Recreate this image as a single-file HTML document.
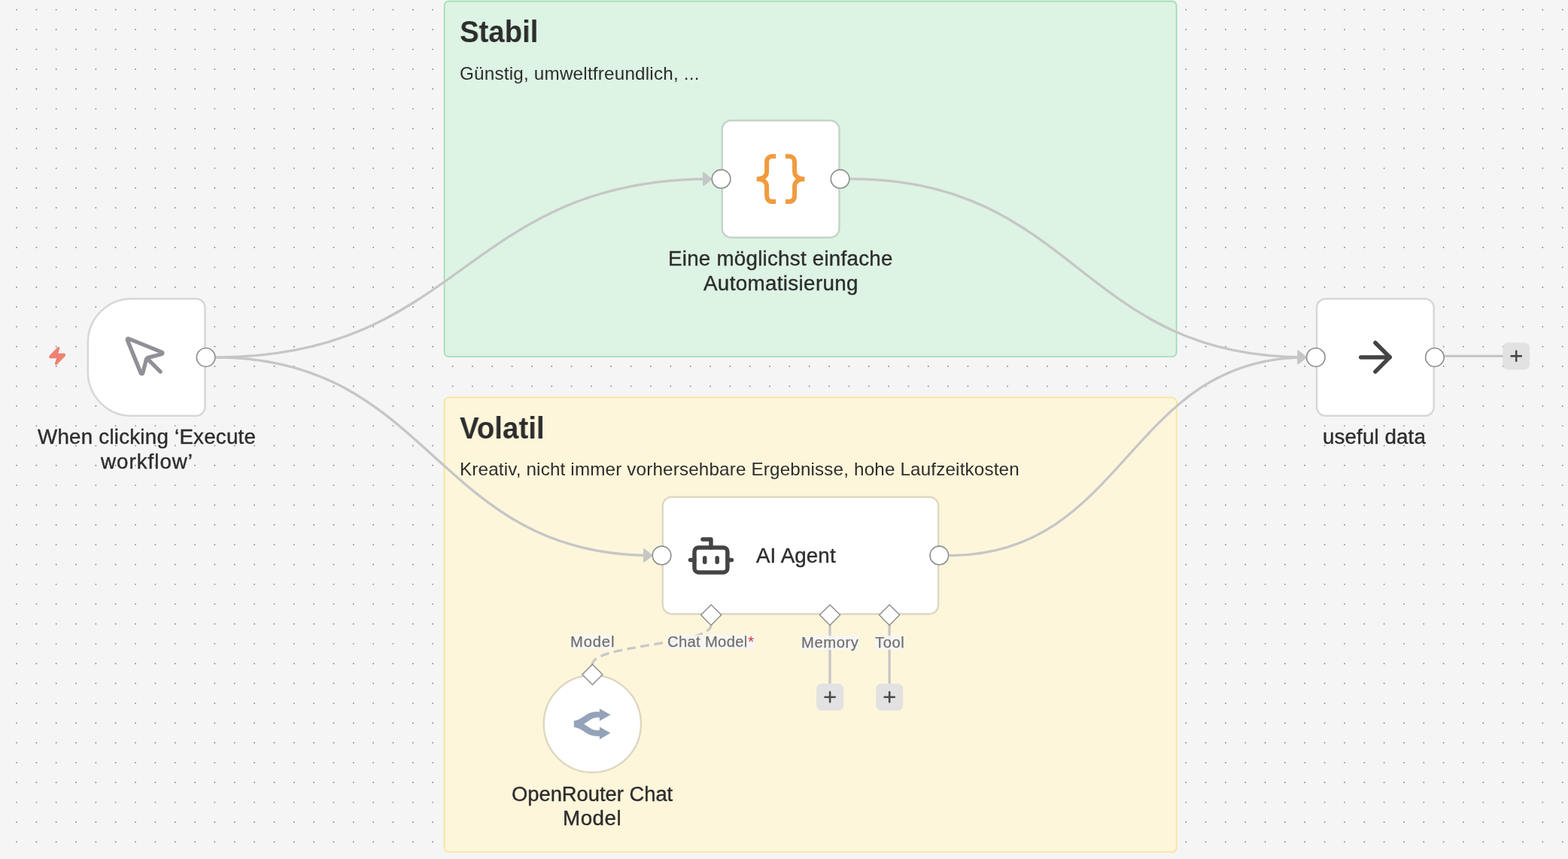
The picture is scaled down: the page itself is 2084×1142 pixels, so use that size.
<!DOCTYPE html>
<html lang="de">
<head>
<meta charset="utf-8">
<title>n8n workflow canvas</title>
<style>
*{box-sizing:border-box;margin:0;padding:0}
html,body{width:2084px;height:1142px;overflow:hidden;background:#f5f5f5}
body{position:relative;font-family:"Liberation Sans",sans-serif}
.abs,.t,.lbl,svg.layer{position:absolute}
svg.layer{left:0;top:0;width:2084px;height:1142px;overflow:visible}
.t{white-space:nowrap;will-change:transform}
.lbl{height:19.4px;background:rgba(246,246,246,.86)}
</style>
</head>
<body>
<svg class="layer" viewBox="0 0 2084 1142">
<path d="M-4.342 12.900H2110M-4.342 39.242H2110M-4.342 65.585H2110M-4.342 91.927H2110M-4.342 118.270H2110M-4.342 144.612H2110M-4.342 170.954H2110M-4.342 197.297H2110M-4.342 223.639H2110M-4.342 249.982H2110M-4.342 276.324H2110M-4.342 302.666H2110M-4.342 329.009H2110M-4.342 355.351H2110M-4.342 381.694H2110M-4.342 408.036H2110M-4.342 434.378H2110M-4.342 460.721H2110M-4.342 487.063H2110M-4.342 513.406H2110M-4.342 539.748H2110M-4.342 566.090H2110M-4.342 592.433H2110M-4.342 618.775H2110M-4.342 645.118H2110M-4.342 671.460H2110M-4.342 697.802H2110M-4.342 724.145H2110M-4.342 750.487H2110M-4.342 776.830H2110M-4.342 803.172H2110M-4.342 829.514H2110M-4.342 855.857H2110M-4.342 882.199H2110M-4.342 908.542H2110M-4.342 934.884H2110M-4.342 961.226H2110M-4.342 987.569H2110M-4.342 1013.911H2110M-4.342 1040.254H2110M-4.342 1066.596H2110M-4.342 1092.938H2110M-4.342 1119.281H2110" fill="none" stroke="#8c8c8c" stroke-width="1.9" stroke-linecap="round" stroke-dasharray="0 26.3424"/>
<rect x="590.59" y="1.69" width="973.02" height="472.51" rx="5.76" fill="#ddf3e3" stroke="#9bdeb0" stroke-width="1.65"/>
<rect x="590.59" y="528.54" width="973.02" height="604.23" rx="5.76" fill="#fef6db" stroke="#fae394" stroke-width="1.65"/>
</svg>
<div class="t" style="left:610.89px;top:16px;font-size:40.6px;line-height:53px;color:#2d2d2d;transform:scaleX(0.9440);transform-origin:0 0;font-weight:700;">Stabil</div>
<div class="t" style="left:610.83px;top:83px;font-size:23.4px;line-height:30px;letter-spacing:0.21px;color:#2d2d2d;transform:scaleX(1.0350);transform-origin:0 0;">Günstig, umweltfreundlich, ...</div>
<div class="t" style="left:611.35px;top:543px;font-size:40.6px;line-height:53px;color:#2d2d2d;transform:scaleX(0.9479);transform-origin:0 0;font-weight:700;">Volatil</div>
<div class="t" style="left:610.91px;top:609px;font-size:23.4px;line-height:30px;letter-spacing:0.16px;color:#2d2d2d;transform:scaleX(1.0350);transform-origin:0 0;">Kreativ, nicht immer vorhersehbare Ergebnisse, hohe Laufzeitkosten</div>
<svg class="layer" viewBox="0 0 2084 1142">
<defs><marker id="arr" viewBox="-10 -10 20 20" markerWidth="12.5" markerHeight="12.5" markerUnits="strokeWidth" orient="auto-start-reverse" refX="0" refY="0"><polyline points="-5,-4 0,0 -5,4 -5,-4" fill="#c6c6c6" stroke="#c6c6c6" stroke-width="1" stroke-linecap="round" stroke-linejoin="round"/></marker></defs>
<g fill="none" stroke="#c6c6c6" stroke-width="3.3">
<path d="M286.83 475.03C616.11 475.03 616.11 237.95 945.39 237.95" marker-end="url(#arr)"/>
<path d="M286.83 475.03C576.59 475.03 576.59 738.45 866.36 738.45" marker-end="url(#arr)"/>
<path d="M1129.78 237.95C1432.72 237.95 1432.72 475.03 1735.66 475.03" marker-end="url(#arr)"/>
<path d="M1261.49 738.45C1498.58 738.45 1498.58 475.03 1735.66 475.03" marker-end="url(#arr)"/>
<path d="M1919.05 473.45H1998"/>
<path d="M1103 831.1V910M1182.1 831.1V910"/>
<path d="M787.33 883.2C787.33 857.15 945.1 857.15 945.1 831.1" stroke="#c8c8c9" stroke-dasharray="11.69 6.42" stroke-dashoffset="1.6"/>
</g>
<path d="M174.87 398.22H260.48A10.95 10.95 0 0 1 271.43 409.17V540.88A10.95 10.95 0 0 1 260.48 551.83H174.87A57.05 57.05 0 0 1 117.82 494.78V455.27A57.05 57.05 0 0 1 174.87 398.22Z" fill="#fff"/><path d="M174.87 397.24H260.48A11.94 11.94 0 0 1 272.42 409.17V540.88A11.94 11.94 0 0 1 260.48 552.82H174.87A58.04 58.04 0 0 1 116.83 494.78V455.27A58.04 58.04 0 0 1 174.87 397.24Z" fill="none" stroke="rgba(0,0,0,.125)" stroke-width="2.47"/>
<path d="M971.73 161.14H1103.44A10.95 10.95 0 0 1 1114.39 172.09V303.8A10.95 10.95 0 0 1 1103.44 314.75H971.73A10.95 10.95 0 0 1 960.78 303.8V172.09A10.95 10.95 0 0 1 971.73 161.14Z" fill="#fff"/><path d="M971.73 160.15H1103.44A11.94 11.94 0 0 1 1115.38 172.09V303.8A11.94 11.94 0 0 1 1103.44 315.74H971.73A11.94 11.94 0 0 1 959.79 303.8V172.09A11.94 11.94 0 0 1 971.73 160.15Z" fill="none" stroke="rgba(0,0,0,.125)" stroke-width="2.47"/>
<path d="M1762 398.22H1893.71A10.95 10.95 0 0 1 1904.66 409.17V540.88A10.95 10.95 0 0 1 1893.71 551.83H1762A10.95 10.95 0 0 1 1751.05 540.88V409.17A10.95 10.95 0 0 1 1762 398.22Z" fill="#fff"/><path d="M1762 397.24H1893.71A11.94 11.94 0 0 1 1905.65 409.17V540.88A11.94 11.94 0 0 1 1893.71 552.82H1762A11.94 11.94 0 0 1 1750.06 540.88V409.17A11.94 11.94 0 0 1 1762 397.24Z" fill="none" stroke="rgba(0,0,0,.125)" stroke-width="2.47"/>
<path d="M892.7 661.64H1235.15A10.95 10.95 0 0 1 1246.1 672.6V804.31A10.95 10.95 0 0 1 1235.15 815.26H892.7A10.95 10.95 0 0 1 881.75 804.31V672.6A10.95 10.95 0 0 1 892.7 661.64Z" fill="#fff"/><path d="M892.7 660.66H1235.15A11.94 11.94 0 0 1 1247.09 672.6V804.31A11.94 11.94 0 0 1 1235.15 816.24H892.7A11.94 11.94 0 0 1 880.76 804.31V672.6A11.94 11.94 0 0 1 892.7 660.66Z" fill="none" stroke="rgba(0,0,0,.125)" stroke-width="2.47"/>
<circle cx="787.33" cy="962.36" r="63.64" fill="#fff"/><circle cx="787.33" cy="962.36" r="64.62" fill="none" stroke="rgba(0,0,0,.125)" stroke-width="2.47"/>
<g fill="#fff" stroke="#8e8e8e" stroke-width="1.65">
<circle cx="273.65" cy="475.03" r="12.28"/>
<circle cx="958.56" cy="237.95" r="12.28"/>
<circle cx="1116.61" cy="237.95" r="12.28"/>
<circle cx="1748.83" cy="475.03" r="12.28"/>
<circle cx="1906.88" cy="475.03" r="12.28"/>
<circle cx="879.53" cy="738.45" r="12.28"/>
<circle cx="1248.32" cy="738.45" r="12.28"/>
<path d="M945.1 804.05L958.65 817.6L945.1 831.15L931.55 817.6Z" stroke-width="1.45"/>
<path d="M1103 804.05L1116.55 817.6L1103 831.15L1089.45 817.6Z" stroke-width="1.45"/>
<path d="M1182.1 804.05L1195.65 817.6L1182.1 831.15L1168.55 817.6Z" stroke-width="1.45"/>
<path d="M787.33 883.15L800.88 896.7L787.33 910.25L773.78 896.7Z" stroke-width="1.45"/>
</g>
<rect x="1997.2" y="455.4" width="36.0" height="36.0" rx="7" fill="#e2e2e2"/><path d="M2008.6 473.4H2021.8M2015.2 466.8V480" fill="none" stroke="#4a4a4a" stroke-width="2.6" stroke-linecap="round"/>
<rect x="1085.1" y="908.7" width="36.0" height="36.0" rx="7" fill="#e2e2e2"/><path d="M1096.5 926.7H1109.7M1103.1 920.1V933.3" fill="none" stroke="#4a4a4a" stroke-width="2.6" stroke-linecap="round"/>
<rect x="1164.2" y="908.7" width="36.0" height="36.0" rx="7" fill="#e2e2e2"/><path d="M1175.6 926.7H1188.8M1182.2 920.1V933.3" fill="none" stroke="#4a4a4a" stroke-width="2.6" stroke-linecap="round"/>
</svg>
<svg class="abs" style="left:161.1px;top:442.4px;width:65.86px;height:65.86px" viewBox="0 0 24 24" fill="none" stroke="#909197" stroke-width="1.93" stroke-linecap="round" stroke-linejoin="round"><path d="M12.586 12.586 19 19"/><path d="M3.688 3.037a.497.497 0 0 0-.651.651l6.5 15.999a.501.501 0 0 0 .947-.062l1.569-6.083a2 2 0 0 1 1.448-1.479l6.124-1.579a.5.5 0 0 0 .063-.947z"/></svg>
<svg class="layer" viewBox="0 0 2084 1142"><path d="M1031.21 207.82L1026.8 207.82C1021.89 207.82 1019.09 210.63 1019.09 215.53L1019.09 228C1019.09 234.3 1014.54 237.95 1005.78 237.95M1005.78 237.95C1014.54 237.95 1019.09 241.59 1019.09 247.89L1019.09 260.36C1019.09 265.27 1021.89 268.07 1026.8 268.07L1031.21 268.07M1043.96 207.82L1048.37 207.82C1053.28 207.82 1056.08 210.63 1056.08 215.53L1056.08 228C1056.08 234.3 1060.63 237.95 1069.39 237.95M1069.39 237.95C1060.63 237.95 1056.08 241.59 1056.08 247.89L1056.08 260.36C1056.08 265.27 1053.28 268.07 1048.37 268.07L1043.96 268.07" fill="none" stroke="#f09b3f" stroke-width="6" stroke-linejoin="round"/></svg>
<svg class="abs" style="left:1794.93px;top:442.1px;width:65.86px;height:65.86px" viewBox="0 0 24 24" fill="none" stroke="#444" stroke-width="2" stroke-linecap="round" stroke-linejoin="round"><path d="M5 12h14"/><path d="m12 5 7 7-7 7"/></svg>
<svg class="abs" style="left:912.46px;top:705.52px;width:65.86px;height:65.86px" viewBox="0 0 24 24" fill="none" stroke="#444" stroke-width="2" stroke-linecap="round" stroke-linejoin="round"><path d="M12 8V4H8"/><rect width="16" height="12" x="4" y="8" rx="2"/><path d="M2 14h2"/><path d="M20 14h2"/><path d="M15 13v2"/><path d="M9 13v2"/></svg>
<svg class="layer" viewBox="0 0 2084 1142"><path transform="translate(747 922) scale(0.070053)" d="M225 518C330 500 400 440 470 395C540 350 620 345 712 345L712 285L920 405L712 520L712 455C640 450 590 465 540 495L415 577L540 660C590 690 640 700 712 695L712 630L918 748L712 870L712 810C620 810 540 800 470 755C400 710 330 655 225 635Z" fill="#94a3b8"/></svg>
<svg class="abs" style="left:62.78px;top:460.38px;width:26.34px;height:26.34px" viewBox="0 0 24 24" fill="#ee8272" stroke="#ee8272" stroke-width="2" stroke-linecap="round" stroke-linejoin="round"><path d="M4 14a1 1 0 0 1-.78-1.63l9.9-10.2a.5.5 0 0 1 .86.46l-1.92 6.02A1 1 0 0 0 13 10h7a1 1 0 0 1 .78 1.63l-9.9 10.2a.5.5 0 0 1-.86-.46l1.92-6.02A1 1 0 0 0 11 14z"/></svg>
<div class="lbl" style="left:758px;top:844.1px;width:58px"></div><div class="t" style="left:757.74px;top:841px;font-size:19.5px;line-height:25px;letter-spacing:0.82px;color:#717171;transform:scaleX(1.0350);transform-origin:0 0;-webkit-text-stroke:0.25px #717171;">Model</div>
<div class="lbl" style="left:886.9px;top:844.1px;width:116.5px"></div><div class="t" style="left:887.26px;top:841px;font-size:19.5px;line-height:25px;letter-spacing:0.33px;color:#717171;transform:scaleX(1.0350);transform-origin:0 0;-webkit-text-stroke:0.25px #717171;">Chat Model</div><div class="t" style="left:994.36px;top:839px;font-size:20.5px;line-height:27px;color:#e0303c;transform:scaleX(1.0350);transform-origin:0 0;">*</div>
<div class="lbl" style="left:1064.6px;top:844.8px;width:77.3px"></div><div class="t" style="left:1064.54px;top:842px;font-size:19.5px;line-height:25px;letter-spacing:0.59px;color:#717171;transform:scaleX(1.0350);transform-origin:0 0;-webkit-text-stroke:0.25px #717171;">Memory</div>
<div class="lbl" style="left:1162.6px;top:844.8px;width:39.3px"></div><div class="t" style="left:1163.1px;top:842px;font-size:19.5px;line-height:25px;letter-spacing:0.58px;color:#717171;transform:scaleX(1.0350);transform-origin:0 0;-webkit-text-stroke:0.25px #717171;">Tool</div>
<div class="t" style="left:49.75px;top:564px;font-size:26.8px;line-height:35px;letter-spacing:0.22px;color:#2d2d2d;transform:scaleX(1.0350);transform-origin:0 0;-webkit-text-stroke:0.38px #2d2d2d;">When clicking ‘Execute</div>
<div class="t" style="left:133.5px;top:597px;font-size:26.8px;line-height:35px;letter-spacing:0.96px;color:#2d2d2d;transform:scaleX(1.0350);transform-origin:0 0;-webkit-text-stroke:0.38px #2d2d2d;">workflow’</div>
<div class="t" style="left:888.02px;top:327px;font-size:26.8px;line-height:35px;letter-spacing:0.24px;color:#2d2d2d;transform:scaleX(1.0350);transform-origin:0 0;-webkit-text-stroke:0.38px #2d2d2d;">Eine möglichst einfache</div>
<div class="t" style="left:935.35px;top:360px;font-size:26.8px;line-height:35px;letter-spacing:0.35px;color:#2d2d2d;transform:scaleX(1.0350);transform-origin:0 0;-webkit-text-stroke:0.38px #2d2d2d;">Automatisierung</div>
<div class="t" style="left:1758.4px;top:564px;font-size:26.8px;line-height:35px;letter-spacing:0.11px;color:#2d2d2d;transform:scaleX(1.0350);transform-origin:0 0;-webkit-text-stroke:0.38px #2d2d2d;">useful data</div>
<div class="t" style="left:1004.75px;top:722px;font-size:26.8px;line-height:35px;letter-spacing:0.1px;color:#2d2d2d;transform:scaleX(1.0350);transform-origin:0 0;-webkit-text-stroke:0.38px #2d2d2d;">AI Agent</div>
<div class="t" style="left:679.97px;top:1039px;font-size:26.8px;line-height:35px;color:#2d2d2d;transform:scaleX(1.0198);transform-origin:0 0;-webkit-text-stroke:0.38px #2d2d2d;">OpenRouter Chat</div>
<div class="t" style="left:748.22px;top:1071px;font-size:26.8px;line-height:35px;letter-spacing:0.52px;color:#2d2d2d;transform:scaleX(1.0350);transform-origin:0 0;-webkit-text-stroke:0.38px #2d2d2d;">Model</div>
</body>
</html>
